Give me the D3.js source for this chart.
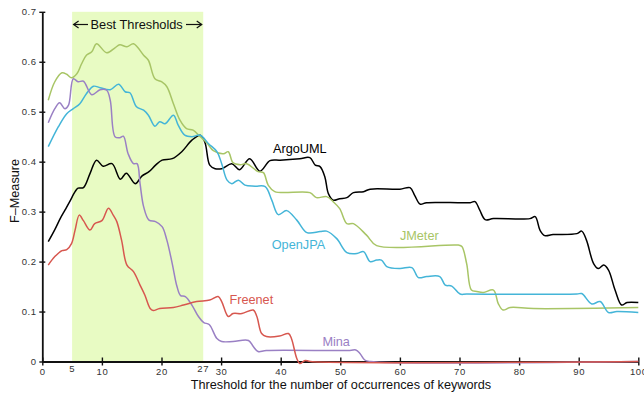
<!DOCTYPE html>
<html>
<head>
<meta charset="utf-8">
<script src="https://cdn.jsdelivr.net/npm/d3@7"></script>
<style>
    body { margin: 0; background: #fff; }
    text { font-family: "Liberation Sans", Arial, sans-serif; }
</style>
</head>
<body>
<div id="chart"></div>
<script>
//DATA
var xTicks = [0, 10, 20, 30, 40, 50, 60, 70, 80, 90, 100];
var xExtraTicks = [5, 27]; //edges of the best band
var yTicks = [0, 0.1, 0.2, 0.3, 0.4, 0.5, 0.6, 0.7];
var bestRange = [5, 27];

var seriesNames = ["ArgoUML", "JMeter", "OpenJPA", "Mina", "Freenet"];

var argoUML = [[1,0.240],[2.1,0.264],[3,0.286],[3.8,0.303],[4.6,0.320],[5.5,0.340],[6,0.347],[6.9,0.348],[8,0.376],[9.1,0.403],[10.2,0.391],[11.7,0.396],[13.1,0.365],[14.1,0.377],[15.6,0.356],[16.7,0.371],[17.9,0.380],[19,0.393],[20.1,0.403],[21.8,0.406],[23.4,0.420],[25.1,0.443],[26.5,0.453],[27.3,0.438],[28.1,0.393],[29,0.386],[30.1,0.386],[31.8,0.396],[33.1,0.384],[34.8,0.406],[36.5,0.381],[38.2,0.402],[39.9,0.403],[43.2,0.406],[44.9,0.408],[45.8,0.393],[46.6,0.390],[47.4,0.370],[48,0.336],[48.8,0.323],[49.9,0.326],[51.1,0.328],[52.2,0.338],[53.9,0.340],[55,0.345],[60,0.345],[61.7,0.348],[62.5,0.332],[63.4,0.315],[64.5,0.318],[71.8,0.318],[72.6,0.320],[73.4,0.303],[74.3,0.284],[75.7,0.286],[81.8,0.286],[82.7,0.290],[83.5,0.263],[84.3,0.252],[85.7,0.254],[89.7,0.256],[90.5,0.261],[91.3,0.243],[92.5,0.196],[93.3,0.186],[94.2,0.193],[95,0.183],[96.1,0.143],[97.2,0.113],[98.1,0.118],[100,0.118]];

var jMeter = [[1,0.523],[2.1,0.560],[3.3,0.578],[4.1,0.575],[4.9,0.568],[5.8,0.576],[6.6,0.596],[7.4,0.613],[8.3,0.620],[9.1,0.636],[10.8,0.618],[12.2,0.628],[13,0.634],[14.2,0.630],[15.3,0.636],[17,0.613],[17.8,0.603],[18.9,0.566],[20,0.560],[20.9,0.550],[22,0.516],[23.1,0.483],[24.2,0.466],[25.3,0.463],[26.5,0.450],[27.6,0.438],[28.7,0.422],[30.4,0.416],[31.2,0.420],[32,0.398],[33.2,0.394],[34.3,0.396],[36.2,0.380],[37.1,0.378],[37.9,0.353],[39,0.340],[44.9,0.338],[46,0.328],[47.7,0.330],[48.8,0.320],[49.9,0.306],[51.1,0.276],[52.2,0.276],[54.4,0.253],[56.1,0.232],[69.8,0.233],[70.4,0.230],[71.2,0.196],[72,0.143],[72.9,0.140],[74,0.138],[75.7,0.143],[76.5,0.116],[77.3,0.103],[78.5,0.108],[82.4,0.106],[100,0.108]];

var openJPA = [[1,0.430],[2.7,0.470],[4.1,0.496],[5.2,0.506],[6.3,0.516],[7.4,0.536],[8.6,0.551],[9.7,0.548],[11.4,0.544],[12.8,0.555],[13.9,0.540],[14.7,0.538],[15.8,0.510],[17,0.503],[17.8,0.493],[18.9,0.471],[19.7,0.480],[20.6,0.476],[22,0.493],[22.8,0.473],[23.9,0.453],[25.1,0.450],[26.5,0.453],[27.9,0.436],[29.3,0.420],[30.1,0.396],[31,0.363],[31.8,0.356],[32.9,0.363],[34,0.353],[35.7,0.351],[37.4,0.350],[38.5,0.323],[39.6,0.294],[41,0.302],[42.7,0.283],[44.4,0.258],[46.6,0.260],[47.7,0.261],[49.4,0.246],[51.1,0.218],[52.8,0.216],[53.9,0.220],[55,0.200],[56.1,0.203],[56.9,0.203],[57.8,0.190],[60,0.186],[62,0.188],[63.1,0.168],[64.5,0.170],[66.7,0.170],[67.6,0.153],[68.7,0.151],[70.1,0.135],[71.2,0.135],[89.7,0.135],[90.5,0.136],[92.2,0.115],[93.6,0.120],[95,0.098],[96.4,0.100],[100,0.098]];

var mina = [[1,0.478],[2.1,0.506],[2.9,0.518],[3.8,0.506],[4.4,0.513],[5.2,0.566],[6,0.560],[6.9,0.561],[8.3,0.534],[9.7,0.544],[10.8,0.543],[11.4,0.523],[12.2,0.450],[13,0.448],[13.6,0.451],[14.4,0.416],[15.3,0.396],[15.9,0.396],[16.4,0.356],[17,0.310],[17.9,0.283],[19,0.280],[20.1,0.270],[20.9,0.243],[21.8,0.196],[22.6,0.150],[23.2,0.132],[24,0.130],[25.1,0.113],[26.2,0.090],[27.1,0.078],[28,0.074],[29.3,0.046],[30.1,0.040],[32,0.040],[34.6,0.042],[35.4,0.030],[36.2,0.020],[37.6,0.022],[51.6,0.022],[52.6,0.023],[53.3,0.016],[54.1,0.003],[55,0],[100,0]];

var freenet = [[1,0.193],[2.1,0.210],[3.3,0.222],[4.1,0.224],[4.9,0.236],[5.5,0.263],[6.2,0.293],[6.9,0.282],[8,0.263],[8.8,0.276],[10,0.282],[11.1,0.307],[11.9,0.293],[12.5,0.280],[13.3,0.243],[14.2,0.193],[15.3,0.180],[16.4,0.153],[17.2,0.133],[18.1,0.106],[18.6,0.102],[19.7,0.106],[22,0.108],[23.7,0.113],[25.9,0.120],[28.1,0.123],[29.5,0.130],[30.1,0.120],[31.2,0.090],[32,0.096],[33.5,0.096],[35.4,0.103],[36,0.090],[36.8,0.056],[37.6,0.050],[39.8,0.051],[41.3,0.056],[41.8,0.046],[42.7,0.006],[43.2,-0.004],[44.1,0.002],[45,0],[100,0]];

var seriesData = [argoUML, jMeter, openJPA, mina, freenet];
var seriesColors = ["#000000", "#a8c566", "#44b5d8", "#9a80c4", "#d7574f"];
//label anchor: threshold and F-measure where each name sits
var labelPos = [[38.7, 0.418], [60, 0.243], [38.5, 0.226], [47, 0.031], [31.4, 0.115]];

//LAYOUT
var width = 644,
    height = 394;

var x = d3.scaleLinear().domain([0, 100]).range([42.3, 638.3]);
var y = d3.scaleLinear().domain([0, 0.7]).range([361.5, 11.8]);

var svg = d3.select("#chart").append("svg")
    .attr("width", width)
    .attr("height", height);

//best thresholds band
svg.append("rect")
    .attr("x", x(bestRange[0]))
    .attr("y", y(0.7))
    .attr("width", x(bestRange[1]) - x(bestRange[0]))
    .attr("height", y(0) - y(0.7))
    .style("fill", "#e8fbc3");

var midBand = (x(bestRange[0]) + x(bestRange[1])) / 2;
svg.append("text")
    .attr("x", midBand - 1)
    .attr("y", 28.5)
    .attr("text-anchor", "middle")
    .style("font-size", "12.8px")
    .style("fill", "#111")
    .text("Best Thresholds");

//arrows either side of the band title
function drawArrow(x1, x2, yy) {
    var dir = x2 > x1 ? 1 : -1;
    svg.append("line")
        .attr("x1", x1).attr("x2", x2)
        .attr("y1", yy).attr("y2", yy)
        .style("stroke", "#111")
        .style("stroke-width", 1.2);
    svg.append("path")
        .attr("d", "M" + (x2 - dir * 5) + "," + (yy - 3.5) + "L" + x2 + "," + yy + "L" + (x2 - dir * 5) + "," + (yy + 3.5))
        .style("fill", "none")
        .style("stroke", "#111")
        .style("stroke-width", 1.2);
}
drawArrow(88, x(bestRange[0]) + 1.5, 24.5);
drawArrow(186, x(bestRange[1]) - 1.5, 24.5);

//AXES
var yAxis = d3.axisLeft(y)
    .tickValues(yTicks)
    .tickSize(3)
    .tickSizeOuter(0)
    .tickPadding(2.6)
    .tickFormat(function(d) {
        return d === 0 ? "0" : d3.format(".1f")(d);
    });

var xAxis = d3.axisBottom(x)
    .tickValues(xTicks)
    .tickSize(4)
    .tickSizeOuter(0)
    .tickPadding(2.8)
    .tickFormat(d3.format("d"));

var gy = svg.append("g")
    .attr("transform", "translate(" + x(0) + ",0)")
    .call(yAxis);
gy.selectAll(".tick line").attr("x1", 3);

var gx = svg.append("g")
    .attr("transform", "translate(0," + y(0) + ")")
    .call(xAxis);
gx.selectAll(".tick line").attr("y1", -4);

[gx, gy].forEach(function(g) {
    g.attr("font-family", null).attr("font-size", null);
    g.select(".domain").style("stroke", "#111").style("stroke-width", 1.8);
    g.selectAll(".tick line").style("stroke", "#111").style("stroke-width", 1.4);
    g.selectAll(".tick text")
        .style("font-size", "9.5px")
        .style("letter-spacing", "0.6px")
        .style("fill", "#333");
});

//5 and 27 are only labelled, a bit higher than the others
svg.selectAll(".extraTick")
    .data(xExtraTicks)
    .enter()
    .append("text")
    .attr("class", "extraTick")
    .attr("x", function(d) { return x(d); })
    .attr("y", 372)
    .attr("text-anchor", "middle")
    .style("font-size", "9.5px")
    .style("letter-spacing", "0.6px")
    .style("fill", "#333")
    .text(function(d) { return d; });

//axis titles
svg.append("text")
    .attr("x", 341)
    .attr("y", 389)
    .attr("text-anchor", "middle")
    .style("font-size", "12.7px")
    .style("fill", "#111")
    .text("Threshold for the number of occurrences of keywords");

svg.append("text")
    .attr("transform", "translate(18.5,191) rotate(-90)")
    .attr("text-anchor", "middle")
    .style("font-size", "12.7px")
    .style("fill", "#111")
    .text("F\u2013Measure");

//LINES
var line = d3.line()
    .x(function(d) { return x(d[0]); })
    .y(function(d) { return y(d[1]); })
    .curve(d3.curveCatmullRom.alpha(0.5));

svg.selectAll(".series")
    .data(seriesData)
    .enter()
    .append("path")
    .attr("class", "series")
    .attr("d", line)
    .style("fill", "none")
    .style("stroke", function(d, i) { return seriesColors[i]; })
    .style("stroke-width", 1.5);

//series names
svg.selectAll(".seriesLabel")
    .data(seriesNames)
    .enter()
    .append("text")
    .attr("class", "seriesLabel")
    .attr("x", function(d, i) { return x(labelPos[i][0]); })
    .attr("y", function(d, i) { return y(labelPos[i][1]); })
    .style("font-size", "12.7px")
    .style("fill", function(d, i) { return seriesColors[i]; })
    .text(function(d) { return d; });
</script>
</body>
</html>
